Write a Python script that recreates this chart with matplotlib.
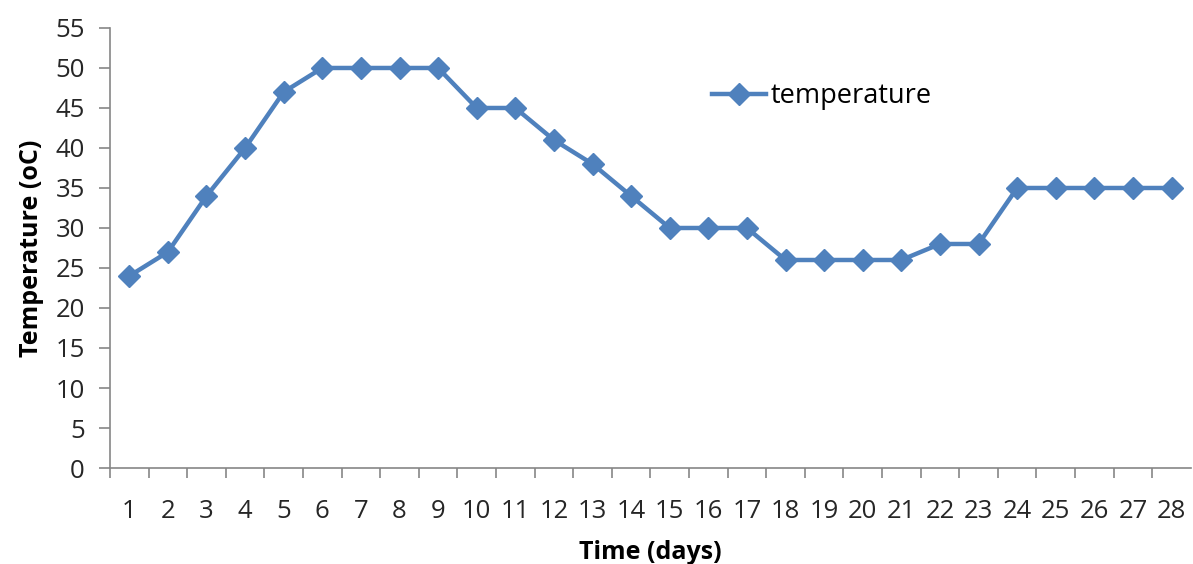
import matplotlib
matplotlib.use("Agg")
import matplotlib.pyplot as plt

# data
days = list(range(1, 29))
temperature = [24, 27, 34, 40, 47, 50, 50, 50, 50, 45, 45, 41, 38, 34,
               30, 30, 30, 26, 26, 26, 26, 28, 28, 35, 35, 35, 35, 35]

plt.rcParams['font.family'] = ['Open Sans', 'DejaVu Sans']

fig = plt.figure(figsize=(11.93, 5.64), dpi=100)
ax = fig.add_axes([0.0922, 0.1702, 0.906, 0.7802])

blue = '#4F81BD'
ax.plot(days, temperature, color=blue, linewidth=3.2, marker='D',
        markersize=11.5, label='temperature')

ax.set_xlim(0.5, 28.5)
ax.set_ylim(0, 55)
ax.set_yticks(range(0, 56, 5))
ax.set_xticks(days)
# ticks between categories, like Excel
ax.set_xticks([d + 0.5 for d in range(0, 28)], minor=True)
ax.tick_params(axis='x', which='major', length=0, pad=22, labelsize=18.5, colors='#262626')
ax.tick_params(axis='x', which='minor', length=7, color='#868686', width=1.2)
ax.tick_params(axis='y', length=8, color='#868686', width=1.2, pad=10,
               labelsize=18.5, labelcolor='#262626')

for s in ['top', 'right']:
    ax.spines[s].set_visible(False)
for s in ['left', 'bottom']:
    ax.spines[s].set_color('#868686')
    ax.spines[s].set_linewidth(1.2)

ax.set_xlabel('Time (days)', fontsize=18, fontweight='bold', labelpad=12)
ax.set_ylabel('Temperature (oC)', fontsize=18, fontweight='bold', labelpad=8)

ax.legend(loc='center left', bbox_to_anchor=(0.557, 0.845), frameon=False,
          fontsize=19.5, handlelength=2.0, handletextpad=0.15,
          borderpad=0, borderaxespad=0)

fig.savefig('out.png', dpi=100)
